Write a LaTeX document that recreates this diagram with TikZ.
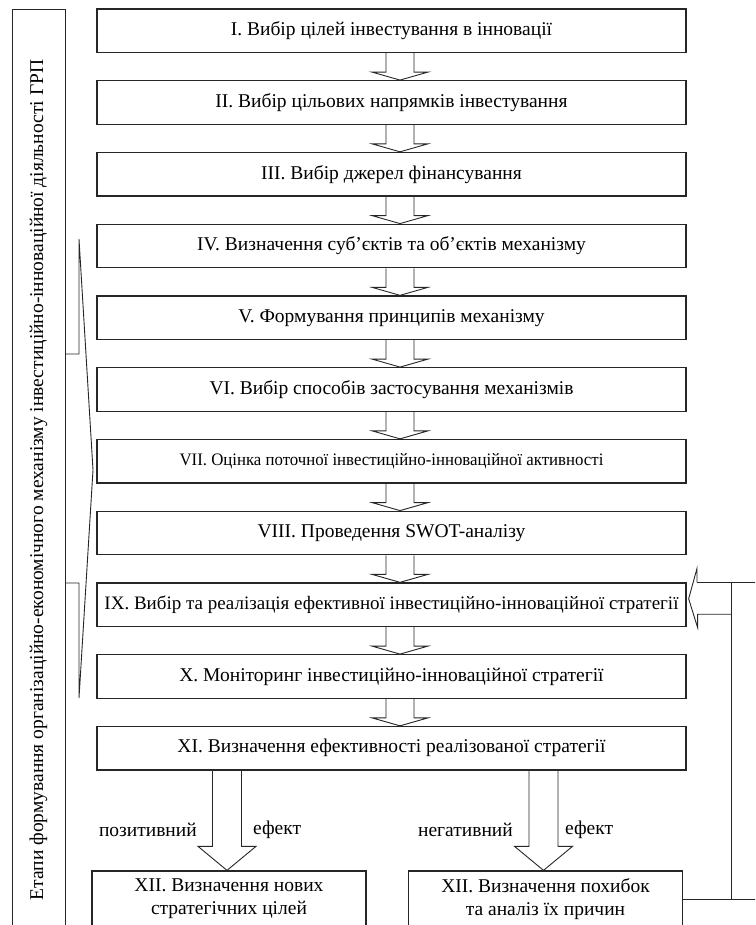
\documentclass[tikz,border=0pt]{standalone}
\usepackage{fontspec}
\setmainfont{Liberation Serif}
\usetikzlibrary{calc}
\tikzset{
  stagebox/.style={draw=black!85, line width=1.3pt, minimum width=589pt, minimum height=43.5pt, inner sep=0pt, font=\fontsize{19.5}{23}\selectfont},
  endbox/.style={draw=black!85, line width=1.3pt, minimum width=274pt, minimum height=56pt, inner sep=0pt, align=center, font=\fontsize{19.5}{23}\selectfont},
  barrow/.style={draw=black!85, line width=0.9pt},
  thinline/.style={draw=black!85, line width=0.9pt},
  lbl/.style={inner sep=0pt, font=\fontsize{19.5}{23}\selectfont}
}
\newcommand\blkdown[2]{%
  \draw[barrow] ($(#1.south)+(-5.5,0)$) -- ($(#2.north)+(-5.5,-8)$) -- ($(#2.north)+(-19.5,-8)$) -- ($(#2.north)+(8.5,0)$) -- ($(#2.north)+(36.5,-8)$) -- ($(#2.north)+(22.5,-8)$) -- ($(#1.south)+(22.5,0)$);}
\begin{document}
\begin{tikzpicture}[x=1pt,y=-1pt]
\useasboundingbox (0,0) rectangle (755,925);
\clip (0,0) rectangle (755,925);
% main stages
\node[stagebox] (b1) at (391.5,30.75) {I. Вибір цілей інвестування в інновації};
\node[stagebox] (b2) at (391.5,102.5) {II. Вибір цільових напрямків інвестування};
\node[stagebox] (b3) at (391.5,174.25) {III. Вибір джерел фінансування};
\node[stagebox] (b4) at (391.5,246) {IV. Визначення суб’єктів та об’єктів механізму};
\node[stagebox] (b5) at (391.5,317.75) {V. Формування принципів механізму};
\node[stagebox] (b6) at (391.5,389.5) {VI. Вибір способів застосування механізмів};
\node[stagebox, font=\fontsize{17.5}{21}\selectfont] (b7) at (391.5,461.25) {\scalebox{0.96}[1]{VII. Оцінка поточної інвестиційно-інноваційної активності}};
\node[stagebox] (b8) at (391.5,533) {VIII. Проведення SWOT-аналізу};
\node[stagebox, font=\fontsize{19}{23}\selectfont] (b9) at (391.5,604.75) {IX. Вибір та реалізація ефективної інвестиційно-інноваційної стратегії};
\node[stagebox] (b10) at (391.5,676.5) {X. Моніторинг інвестиційно-інноваційної стратегії};
\node[stagebox] (b11) at (391.5,748.25) {XI. Визначення ефективності реалізованої стратегії};
% final boxes
\node[endbox] (lb) at (229,899) {XII. Визначення нових\\стратегічних цілей};
\node[endbox] (rb) at (545.5,899) {XII. Визначення похибок\\та аналіз їх причин};
% block arrows between stages
\blkdown{b1}{b2}
\blkdown{b2}{b3}
\blkdown{b3}{b4}
\blkdown{b4}{b5}
\blkdown{b5}{b6}
\blkdown{b6}{b7}
\blkdown{b7}{b8}
\blkdown{b8}{b9}
\blkdown{b9}{b10}
\blkdown{b10}{b11}
% bottom arrows
\draw[barrow] ($(b11.south -| lb.north)+(-16.5,0)$) -- ($(lb.north)+(-16.5,-24)$) -- ($(lb.north)+(-31,-24)$) -- ($(lb.north)+(-2,0)$) -- ($(lb.north)+(27,-24)$) -- ($(lb.north)+(12.5,-24)$) -- ($(b11.south -| lb.north)+(12.5,0)$);
\draw[barrow] ($(b11.south -| rb.north)+(-16.5,0)$) -- ($(rb.north)+(-16.5,-24)$) -- ($(rb.north)+(-31,-24)$) -- ($(rb.north)+(-2,0)$) -- ($(rb.north)+(27,-24)$) -- ($(rb.north)+(12.5,-24)$) -- ($(b11.south -| rb.north)+(12.5,0)$);
\node[lbl, anchor=east] (pos) at (197,830) {позитивний};
\node[lbl, anchor=west] (ef1) at (253,830) {ефект};
\node[lbl, anchor=east] (neg) at (513,830) {негативний};
\node[lbl, anchor=west] (ef2) at (565,830) {ефект};
% feedback
\coordinate (fbx) at (731,0);
\draw[barrow] (rb.east) -- ++(90,0);
\draw[barrow] (rb.east -| fbx) -- ($(b9.north -| fbx)$);
\draw[barrow] ($(b9.north)+(305.5,0)$) -- ($(b9.north)+(400,0)$);
\draw[barrow] ($(b9.north)+(305.5,0)$) -- ($(b9.north)+(305.5,-14)$) -- ($(b9.east)+(2,-6)$) -- ($(b9.east)+(11,23)$) -- ($(b9.east)+(11,9.5)$) -- ($(b9.east -| fbx)+(0,9.5)$);
% left frame and brackets
\draw[thinline] (12,960) -- (12,9) -- (65,9) -- (65,960);
\draw[thinline] (65,354) -- (79,354) -- (79,239) -- (93,470) -- (79,698) -- (79,583) -- (65,583);
\node[lbl, rotate=90] (title) at (38.5,480) {Етапи формування організаційно-економічного механізму інвестиційно-інноваційної діяльності ГРП};
\end{tikzpicture}
\end{document}
